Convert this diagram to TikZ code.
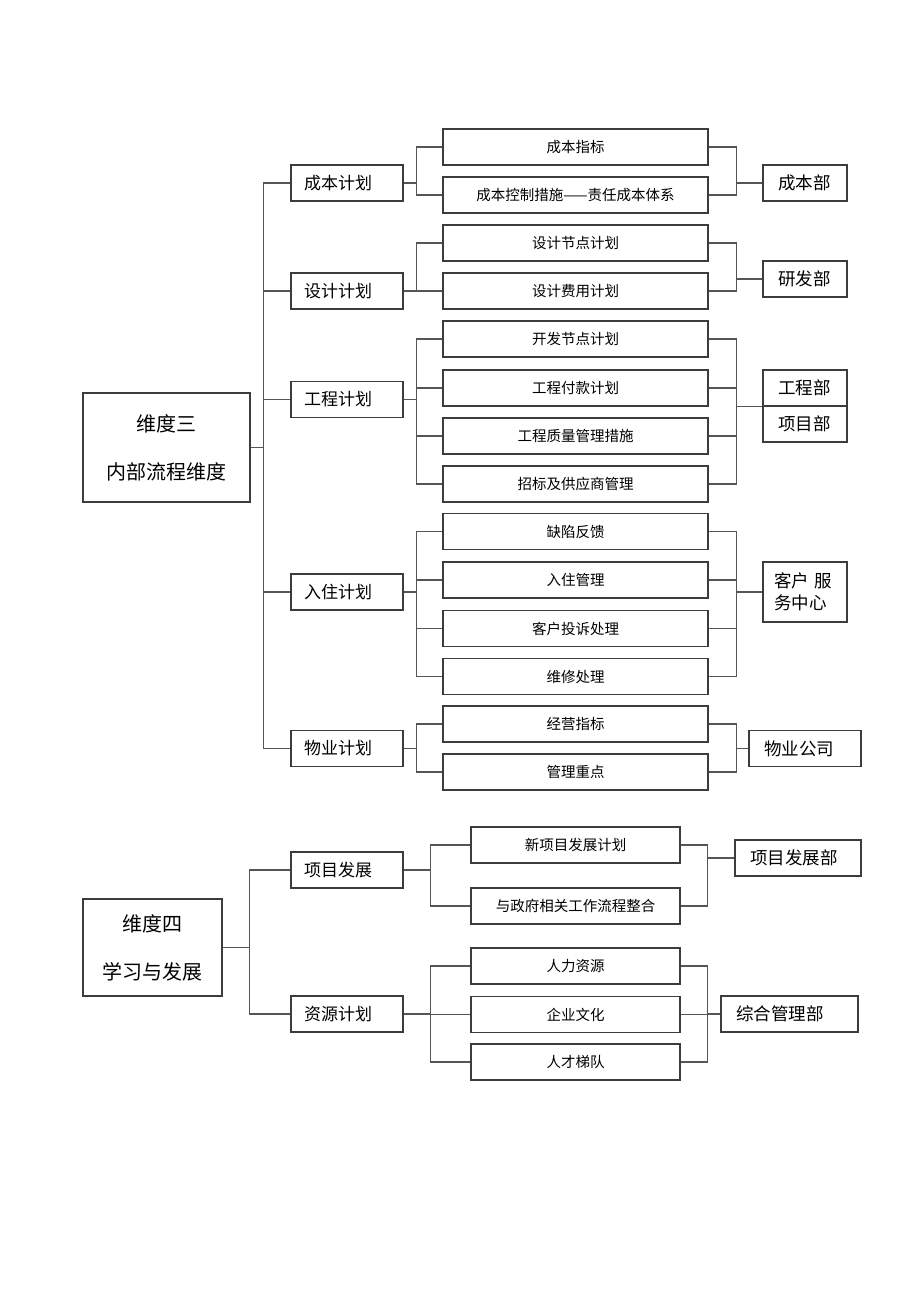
\documentclass[tikz,border=0pt]{standalone}
\usepackage{fontspec}
\setmainfont{Noto Sans CJK SC}
\definecolor{boxline}{RGB}{60, 60, 60}
\definecolor{linkline}{RGB}{85, 85, 85}
\usetikzlibrary{positioning}

\tikzset{
  dimbox/.style={draw=boxline, line width=1.3pt, minimum width=167pt, minimum height=109pt, inner sep=0pt, align=center, font=\fontsize{20}{48}\selectfont},
  planbox/.style={draw=boxline, line width=1.3pt, minimum height=36pt, text width=86pt, inner xsep=13pt, inner ysep=0pt, align=left, font=\fontsize{17}{20}\selectfont},
  itembox/.style={draw=boxline, line width=1.3pt, minimum width=#1, minimum height=36pt, inner sep=0pt, font=\fontsize{14.5}{17}\selectfont},
  itembox/.default=265pt,
  deptbox/.style={draw=boxline, line width=1.3pt, minimum height=36pt, text width=#1, inner xsep=15pt, inner ysep=0pt, align=left, font=\fontsize{17.5}{22}\selectfont},
  deptbox/.default=54pt,
  link/.style={draw=linkline, line width=1.3pt}
}

\begin{document}
\begin{tikzpicture}[x=1pt, y=-1pt]
  \useasboundingbox (0,0) rectangle (920,1303);

  % Dimension three
  \node[dimbox] (dimthree) at (166.5, 447.5) {维度三\\内部流程维度};

  \node[planbox] (cost) at (347, 183) {成本计划};
  \node[planbox] (design) at (347, 291) {设计计划};
  \node[planbox] (eng) at (347, 399.5) {工程计划};
  \node[planbox] (movein) at (347, 592) {入住计划};
  \node[planbox] (prop) at (347, 748.5) {物业计划};

  \node[itembox] (costidx) at (575.5, 147) {成本指标};
  \node[itembox] (costctl) at (575.5, 195) {成本控制措施——责任成本体系};
  \node[itembox] (designnode) at (575.5, 243) {设计节点计划};
  \node[itembox] (designfee) at (575.5, 291) {设计费用计划};
  \node[itembox] (devnode) at (575.5, 339) {开发节点计划};
  \node[itembox] (engpay) at (575.5, 388) {工程付款计划};
  \node[itembox] (engqual) at (575.5, 436) {工程质量管理措施};
  \node[itembox] (bidding) at (575.5, 484) {招标及供应商管理};
  \node[itembox] (defect) at (575.5, 531.5) {缺陷反馈};
  \node[itembox] (movemgmt) at (575.5, 580) {入住管理};
  \node[itembox] (complaint) at (575.5, 628.5) {客户投诉处理};
  \node[itembox] (repair) at (575.5, 676.5) {维修处理};
  \node[itembox] (opidx) at (575.5, 724) {经营指标};
  \node[itembox] (mgmtkey) at (575.5, 772) {管理重点};

  \node[deptbox] (costdept) at (805, 183) {成本部};
  \node[deptbox] (rnddept) at (805, 279) {研发部};
  \node[deptbox] (engdept) at (805, 388) {工程部};
  \node[deptbox] (projdept) at (805, 424) {项目部};
  \node[deptbox=62pt, inner xsep=11pt, minimum height=60pt] (service) at (805, 592) {客户 服\\务中心};
  \node[deptbox=82pt] (propco) at (805, 748.5) {物业公司};

  \draw[link] (dimthree.east) -- ++(13,0) |- (cost.west);
  \draw[link] (dimthree.east) -- ++(13,0) |- (design.west);
  \draw[link] (dimthree.east) -- ++(13,0) |- (eng.west);
  \draw[link] (dimthree.east) -- ++(13,0) |- (movein.west);
  \draw[link] (dimthree.east) -- ++(13,0) |- (prop.west);

  \draw[link] (cost.east) -- ++(13,0) |- (costidx.west);
  \draw[link] (cost.east) -- ++(13,0) |- (costctl.west);
  \draw[link] (design.east) -- ++(13,0) |- (designnode.west);
  \draw[link] (design.east) -- ++(13,0) |- (designfee.west);
  \draw[link] (eng.east) -- ++(13,0) |- (devnode.west);
  \draw[link] (eng.east) -- ++(13,0) |- (engpay.west);
  \draw[link] (eng.east) -- ++(13,0) |- (engqual.west);
  \draw[link] (eng.east) -- ++(13,0) |- (bidding.west);
  \draw[link] (movein.east) -- ++(13,0) |- (defect.west);
  \draw[link] (movein.east) -- ++(13,0) |- (movemgmt.west);
  \draw[link] (movein.east) -- ++(13,0) |- (complaint.west);
  \draw[link] (movein.east) -- ++(13,0) |- (repair.west);
  \draw[link] (prop.east) -- ++(13,0) |- (opidx.west);
  \draw[link] (prop.east) -- ++(13,0) |- (mgmtkey.west);

  \draw[link] (costidx.east) -- ++(28,0) |- (costdept.west);
  \draw[link] (costctl.east) -- ++(28,0) |- (costdept.west);
  \draw[link] (designnode.east) -- ++(28,0) |- (rnddept.west);
  \draw[link] (designfee.east) -- ++(28,0) |- (rnddept.west);
  \draw[link] (devnode.east) -- ++(28,0) |- (engdept.south west);
  \draw[link] (engpay.east) -- ++(28,0) |- (engdept.south west);
  \draw[link] (engqual.east) -- ++(28,0) |- (engdept.south west);
  \draw[link] (bidding.east) -- ++(28,0) |- (engdept.south west);
  \draw[link] (defect.east) -- ++(28,0) |- (service.west);
  \draw[link] (movemgmt.east) -- ++(28,0) |- (service.west);
  \draw[link] (complaint.east) -- ++(28,0) |- (service.west);
  \draw[link] (repair.east) -- ++(28,0) |- (service.west);
  \draw[link] (opidx.east) -- ++(28,0) |- (propco.west);
  \draw[link] (mgmtkey.east) -- ++(28,0) |- (propco.west);

  % Dimension four
  \node[dimbox, minimum width=139pt, minimum height=97pt] (dimfour) at (152.5, 947.5) {维度四\\学习与发展};

  \node[planbox] (projdev) at (347, 870) {项目发展};
  \node[planbox] (resplan) at (347, 1014) {资源计划};

  \node[itembox=209pt] (newproj) at (575.5, 845) {新项目发展计划};
  \node[itembox=209pt] (govflow) at (575.5, 906) {与政府相关工作流程整合};
  \node[itembox=209pt] (hr) at (575.5, 966) {人力资源};
  \node[itembox=209pt] (culture) at (575.5, 1014.5) {企业文化};
  \node[itembox=209pt] (talent) at (575.5, 1062) {人才梯队};

  \node[deptbox=96pt] (projdevdept) at (798, 858) {项目发展部};
  \node[deptbox=107pt] (admindept) at (789.5, 1014) {综合管理部};

  \draw[link] (dimfour.east) -- ++(27,0) |- (projdev.west);
  \draw[link] (dimfour.east) -- ++(27,0) |- (resplan.west);

  \draw[link] (projdev.east) -- ++(27,0) |- (newproj.west);
  \draw[link] (projdev.east) -- ++(27,0) |- (govflow.west);
  \draw[link] (resplan.east) -- ++(27,0) |- (hr.west);
  \draw[link] (resplan.east) -- ++(27,0) |- (culture.west);
  \draw[link] (resplan.east) -- ++(27,0) |- (talent.west);

  \draw[link] (newproj.east) -- ++(27,0) |- (projdevdept.west);
  \draw[link] (govflow.east) -- ++(27,0) |- (projdevdept.west);
  \draw[link] (hr.east) -- ++(27,0) |- (admindept.west);
  \draw[link] (culture.east) -- ++(27,0) |- (admindept.west);
  \draw[link] (talent.east) -- ++(27,0) |- (admindept.west);
\end{tikzpicture}
\end{document}
